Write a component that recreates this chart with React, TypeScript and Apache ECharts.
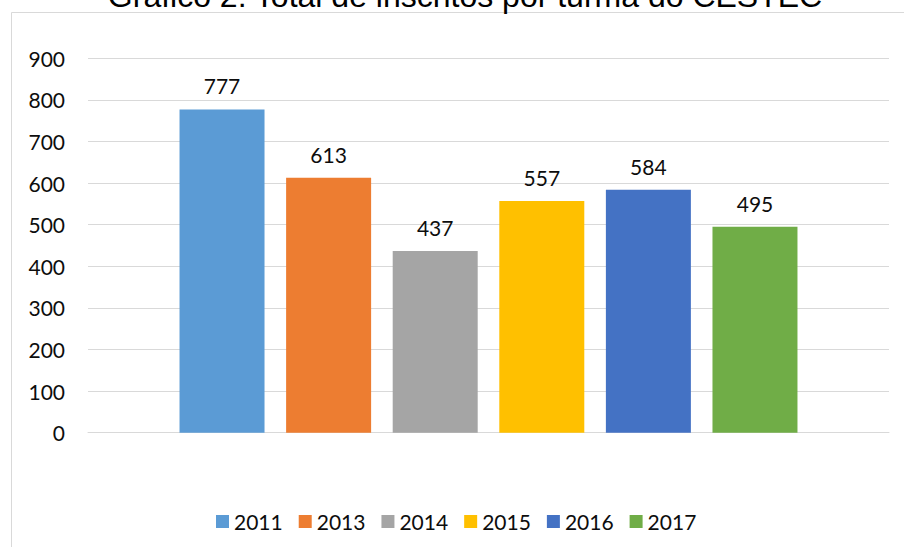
import React, { useEffect, useRef } from "react";
import * as echarts from "echarts";

const titleText = "Gráfico 2: Total de inscritos por turma do CESTEC";
const categories = ["Total"];
const seriesNames = ["2011", "2013", "2014", "2015", "2016", "2017"];
const seriesValues = [777, 613, 437, 557, 584, 495];
const seriesColors = ["#5B9BD5", "#ED7D31", "#A5A5A5", "#FFC000", "#4472C4", "#70AD47"];
const yTicks = { min: 0, max: 900, interval: 100 };

const FONT = "Lato";
const TEXT = "#0d0d0d";

export default function App() {
  const ref = useRef<HTMLDivElement>(null);
  useEffect(() => {
    if (!ref.current) return;
    const chart = echarts.init(ref.current, null, { renderer: "svg" });
    const option = {
      animation: false,
      backgroundColor: "#ffffff",
      graphic: [
        {
          type: "rect",
          z: -10,
          shape: { x: 11.5, y: 12.5, width: 1000, height: 1000 },
          style: { fill: "none", stroke: "#d9d9d9", lineWidth: 1 },
        },
        {
          type: "text",
          x: 465,
          y: -4,
          style: {
            text: titleText,
            fontFamily: "Liberation Sans",
            fontSize: 32,
            fill: "#000",
            textAlign: "center",
            textVerticalAlign: "middle",
          },
        },
      ],
      legend: {
        left: 211,
        top: 506,
        itemWidth: 13,
        itemHeight: 13,
        itemGap: 16,
        icon: "rect",
        textStyle: { fontFamily: FONT, fontSize: 21, color: TEXT },
        data: seriesNames,
      },
      grid: { left: 88, right: 15, top: 58.3, bottom: 114.3, containLabel: false },
      xAxis: {
        type: "category",
        data: categories,
        axisLine: { show: true, lineStyle: { color: "#d9d9d9", width: 1 } },
        axisTick: { show: false },
        axisLabel: { show: false },
      },
      yAxis: {
        type: "value",
        min: yTicks.min,
        max: yTicks.max,
        interval: yTicks.interval,
        axisLine: { show: false },
        axisTick: { show: false },
        axisLabel: { margin: 23, fontFamily: FONT, fontSize: 21, color: TEXT },
        splitLine: { lineStyle: { color: "#d9d9d9", width: 1 } },
      },
      series: seriesNames.map((name, i) => ({
        name,
        type: "bar",
        data: [seriesValues[i]],
        barWidth: 85,
        barGap: "25.4%",
        itemStyle: { color: seriesColors[i] },
        label: {
          show: true,
          position: "top",
          distance: 13,
          fontFamily: FONT,
          fontSize: 21,
          color: TEXT,
        },
      })),
    };
    chart.setOption(option as any);
    return () => chart.dispose();
  }, []);
  return (
    <div
      ref={ref}
      style={{ position: "fixed", left: 0, top: 0, width: 904, height: 547 }}
    />
  );
}
